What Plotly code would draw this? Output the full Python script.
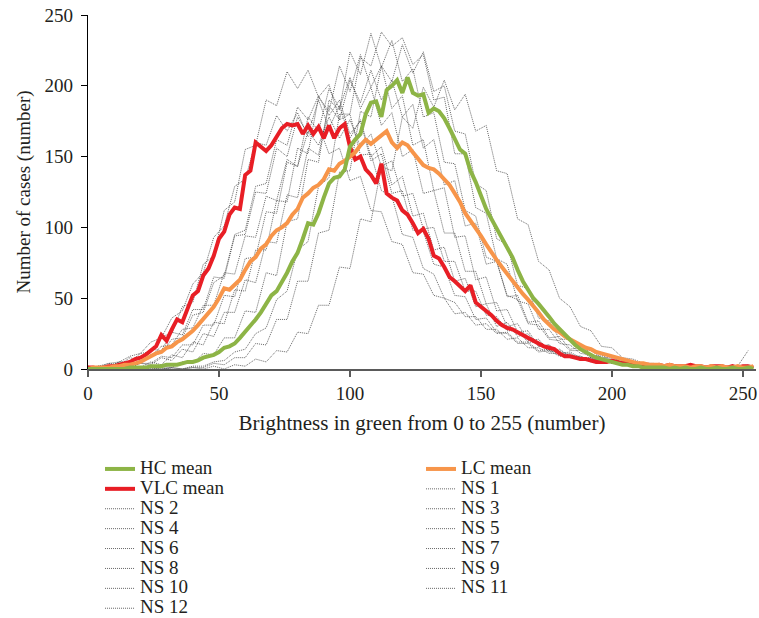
import plotly.graph_objects as go

# Brightness bins
X_MEAN = list(range(0, 256, 2))   # mean curves sampled every 2 units
X_NS = list(range(0, 256, 4))     # NS curves sampled every 4 units

HC_MEAN = [
    0, 0, 0, 0, 0, 0, 0, 0, 1, 1,
    1, 1, 2, 2, 2, 3, 3, 3, 4, 5,
    5, 6, 8, 9, 10, 12, 15, 16, 18, 22,
    26, 30, 35, 40, 46, 52, 55, 61, 68, 76,
    82, 92, 103, 102, 110, 121, 131, 135, 136, 141,
    157, 162, 166, 180, 188, 189, 178, 197, 200, 204,
    195, 206, 195, 193, 194, 181, 184, 182, 177, 170,
    163, 155, 152, 140, 132, 122, 113, 106, 99, 93,
    86, 79, 70, 62, 56, 50, 46, 42, 37, 32,
    28, 25, 20, 17, 14, 12, 10, 8, 7, 6,
    5, 4, 3, 3, 2, 2, 1, 1, 1, 1,
    1, 0, 1, 0, 1, 0, 0, 1, 0, 0,
    1, 0, 0, 1, 0, 0, 1, 0]

LC_MEAN = [
    0, 1, 1, 1, 1, 2, 2, 3, 3, 4,
    5, 7, 9, 11, 12, 15, 16, 19, 21, 24,
    27, 31, 35, 40, 44, 50, 57, 56, 60, 63,
    70, 76, 79, 85, 88, 94, 98, 100, 103, 109,
    113, 121, 124, 128, 130, 134, 141, 140, 145, 147,
    150, 153, 158, 162, 159, 162, 165, 168, 160, 156,
    160, 158, 153, 148, 144, 142, 141, 138, 134, 130,
    124, 118, 110, 105, 100, 94, 88, 82, 77, 72,
    67, 62, 57, 53, 49, 45, 40, 35, 31, 28,
    26, 23, 21, 19, 17, 15, 14, 12, 11, 10,
    9, 8, 7, 6, 5, 4, 4, 3, 3, 3,
    2, 3, 2, 2, 2, 1, 2, 2, 1, 2,
    1, 2, 1, 1, 2, 1, 1, 2]

VLC_MEAN = [
    1, 1, 0, 1, 2, 2, 3, 4, 5, 7,
    8, 10, 13, 16, 24, 20, 28, 35, 33, 42,
    52, 55, 66, 71, 80, 92, 97, 109, 114, 113,
    137, 140, 160, 157, 154, 158, 164, 170, 173, 172,
    173, 166, 172, 166, 171, 163, 172, 163, 170, 173,
    157, 148, 150, 141, 137, 131, 145, 124, 121, 119,
    112, 109, 103, 96, 99, 92, 80, 78, 72, 65,
    62, 58, 55, 59, 47, 44, 41, 38, 34, 31,
    29, 28, 26, 24, 22, 20, 18, 16, 15, 14,
    11, 9, 9, 8, 7, 7, 6, 5, 5, 5,
    6, 5, 4, 4, 4, 3, 3, 3, 2, 3,
    2, 3, 2, 2, 2, 3, 2, 2, 1, 2,
    2, 2, 1, 2, 1, 2, 2, 1]

NS1 = [1, 2, 4, 5, 9, 11, 19, 22, 36, 41, 60, 68, 93, 101, 129, 134,
       160, 158, 179, 168, 181, 164, 172, 152, 156, 133, 136, 112, 111, 90, 88, 68,
       67, 52, 50, 39, 40, 31, 32, 25, 26, 19, 19, 13, 14, 10, 10, 7,
       8, 5, 6, 4, 5, 3, 3, 2, 3, 1, 2, 1, 2, 1, 1, 2]
NS2 = [0, 2, 1, 5, 5, 11, 12, 23, 25, 44, 47, 74, 80, 112, 118, 155,
       158, 190, 186, 210, 198, 211, 192, 201, 176, 180, 151, 152, 126, 122, 95, 93,
       71, 67, 50, 47, 37, 37, 28, 28, 21, 22, 15, 15, 11, 11, 8, 8,
       5, 6, 4, 5, 3, 3, 2, 3, 1, 2, 1, 1, 2, 1, 0, 1]
NS3 = [1, 0, 2, 3, 5, 4, 10, 11, 21, 22, 38, 40, 61, 66, 95, 98,
       129, 131, 162, 158, 185, 176, 193, 179, 190, 166, 175, 147, 152, 124, 126, 98,
       97, 74, 72, 52, 51, 35, 36, 26, 25, 18, 18, 12, 13, 9, 9, 6,
       7, 4, 5, 3, 4, 2, 3, 2, 1, 2, 1, 1, 1, 2, 1, 1]
NS4 = [0, 2, 2, 5, 4, 8, 9, 16, 17, 28, 29, 45, 45, 68, 67, 94,
       93, 122, 119, 148, 143, 168, 158, 178, 163, 176, 157, 166, 143, 147, 122, 124,
       99, 100, 76, 76, 55, 55, 38, 37, 27, 27, 19, 19, 12, 13, 9, 9,
       6, 7, 4, 5, 3, 3, 2, 2, 3, 1, 1, 2, 1, 1, 1, 2]
NS5 = [0, 1, 0, 2, 1, 4, 4, 9, 8, 17, 17, 31, 31, 52, 51, 78,
       79, 111, 110, 146, 143, 178, 168, 198, 184, 206, 184, 199, 172, 181, 150, 155,
       124, 126, 96, 96, 69, 69, 46, 47, 30, 32, 20, 21, 13, 14, 9, 9,
       6, 7, 4, 5, 3, 4, 2, 2, 1, 2, 1, 1, 2, 1, 1, 1]
NS6 = [0, 1, 0, 1, 2, 1, 5, 3, 10, 8, 19, 17, 33, 32, 56, 55,
       84, 84, 119, 118, 156, 152, 192, 182, 214, 196, 222, 199, 214, 184, 193, 158,
       162, 126, 128, 93, 94, 63, 65, 41, 42, 26, 27, 16, 17, 10, 11, 7,
       7, 4, 5, 3, 4, 2, 3, 1, 2, 1, 1, 2, 1, 1, 2, 1]
NS7 = [0, 0, 1, 0, 1, 0, 1, 2, 1, 5, 4, 11, 10, 22, 22, 41,
       40, 68, 66, 104, 106, 148, 146, 190, 183, 224, 208, 237, 213, 232, 203, 212,
       178, 181, 146, 145, 112, 108, 79, 76, 52, 49, 32, 31, 21, 20, 13, 13,
       8, 9, 5, 6, 3, 4, 2, 3, 1, 2, 1, 1, 2, 1, 1, 2]
NS8 = [0, 0, 0, 1, 0, 0, 1, 0, 1, 0, 2, 2, 5, 6, 12, 14,
       25, 29, 49, 55, 84, 90, 129, 135, 180, 180, 220, 214, 238, 228, 234, 215,
       222, 190, 192, 152, 152, 114, 110, 78, 74, 48, 46, 28, 28, 18, 17, 11,
       10, 7, 7, 4, 4, 2, 3, 1, 2, 1, 1, 1, 0, 1, 1, 1]
NS9 = [0, 0, 1, 0, 0, 1, 0, 0, 1, 0, 1, 1, 4, 3, 8, 8,
       18, 17, 35, 35, 62, 62, 96, 98, 139, 140, 182, 178, 214, 203, 229, 209,
       224, 196, 200, 168, 166, 131, 126, 92, 88, 59, 57, 36, 34, 21, 21, 13,
       13, 8, 8, 5, 5, 3, 3, 2, 2, 1, 2, 1, 1, 0, 1, 1]
NS10 = [0, 1, 0, 2, 1, 4, 3, 8, 6, 14, 12, 25, 23, 40, 40, 63,
        61, 90, 89, 123, 121, 156, 151, 186, 176, 204, 188, 211, 190, 204, 178, 187,
        156, 162, 130, 133, 101, 103, 74, 76, 51, 52, 33, 34, 22, 23, 14, 15,
        9, 10, 6, 7, 4, 4, 2, 3, 1, 2, 1, 1, 2, 1, 0, 1]
NS11 = [2, 1, 4, 3, 8, 6, 14, 13, 26, 24, 42, 42, 65, 64, 94, 95,
        125, 124, 156, 150, 178, 166, 190, 170, 186, 163, 176, 150, 157, 130, 136, 108,
        110, 84, 86, 62, 64, 44, 46, 30, 33, 23, 25, 16, 17, 11, 12, 8,
        8, 5, 6, 3, 4, 2, 3, 1, 2, 1, 2, 1, 1, 1, 2, 3]
NS12 = [0, 0, 0, 0, 1, 0, 0, 1, 0, 0, 1, 0, 2, 0, 3, 2,
        7, 5, 13, 12, 26, 25, 45, 45, 72, 71, 106, 104, 143, 140, 178, 170,
        199, 185, 204, 183, 194, 168, 172, 140, 138, 106, 102, 76, 70, 50, 44, 30,
        27, 16, 15, 8, 7, 4, 4, 2, 2, 1, 2, 1, 1, 1, 2, 13]

NS_SERIES = [NS1, NS2, NS3, NS4, NS5, NS6, NS7, NS8, NS9, NS10, NS11, NS12]
NS_NAMES = ["NS %d" % (i + 1) for i in range(12)]

X_TICKS = [0, 50, 100, 150, 200, 250]
Y_TICKS = [0, 50, 100, 150, 200, 250]

FONT = "Liberation Serif"
TXT = "#231f20"
FS_TICK = 19
FS_XTITLE = 21
FS_YTITLE = 19
FS_LEGEND = 19


def lname(s):
    return '<span style="font-size:%dpx">%s</span>' % (FS_LEGEND, s)


fig = go.Figure()

for i, (name, ys) in enumerate(zip(NS_NAMES, NS_SERIES)):
    fig.add_trace(go.Scatter(
        x=X_NS, y=ys, mode="lines", name=lname(name),
        line=dict(color="rgba(55,55,55,0.85)", width=0.9, dash="1px,1px"),
        legendrank=10 + i, hoverinfo="skip"))

fig.add_trace(go.Scatter(x=X_MEAN, y=VLC_MEAN, mode="lines", name=lname("VLC mean"),
                         line=dict(color="#E81E25", width=4), legendrank=3))
fig.add_trace(go.Scatter(x=X_MEAN, y=LC_MEAN, mode="lines", name=lname("LC mean"),
                         line=dict(color="#F7954A", width=4), legendrank=2))
fig.add_trace(go.Scatter(x=X_MEAN, y=HC_MEAN, mode="lines", name=lname("HC mean"),
                         line=dict(color="#8DB446", width=4), legendrank=1))

fig.update_layout(
    width=759, height=618,
    margin=dict(l=88, r=3, t=15, b=249, autoexpand=False),
    paper_bgcolor="white", plot_bgcolor="white",
    font=dict(family=FONT, size=FS_TICK, color=TXT),
    showlegend=True,
    legend=dict(
        orientation="h", x=0.018, xanchor="left", y=-0.2401, yanchor="top",
        entrywidth=276, entrywidthmode="pixels",
        font=dict(family=FONT, size=13, color=TXT),
        bgcolor="rgba(0,0,0,0)", borderwidth=0,
    ),
    xaxis=dict(
        range=[0, 255], tickvals=X_TICKS, ticktext=[str(v) for v in X_TICKS],
        showline=True, linecolor="#5a5a5a", linewidth=2,
        ticks="outside", ticklen=6, tickcolor="#5a5a5a", tickwidth=1.5,
        showgrid=False, zeroline=False, ticklabelstandoff=0,
        tickfont=dict(size=FS_TICK, color=TXT),
        title=dict(text="Brightness in green from 0 to 255 (number)",
                   font=dict(size=FS_XTITLE, color=TXT), standoff=13),
    ),
    yaxis=dict(
        range=[0, 250], tickvals=Y_TICKS, ticktext=[str(v) for v in Y_TICKS],
        showline=True, linecolor="black", linewidth=1.3,
        ticks="outside", ticklen=6, tickcolor="black", tickwidth=1.3,
        showgrid=False, zeroline=False, ticklabelstandoff=4,
        tickfont=dict(size=FS_TICK, color=TXT),
        title=dict(text="Number of cases (number)",
                   font=dict(size=FS_YTITLE, color=TXT), standoff=8),
    ),
)

# Remove the default page margin so the 759x618 figure fills the window exactly.
fig.write_html(
    "out.html",
    config={"displayModeBar": False},
    post_script="document.body.style.margin='0';document.body.style.overflow='hidden';",
)
